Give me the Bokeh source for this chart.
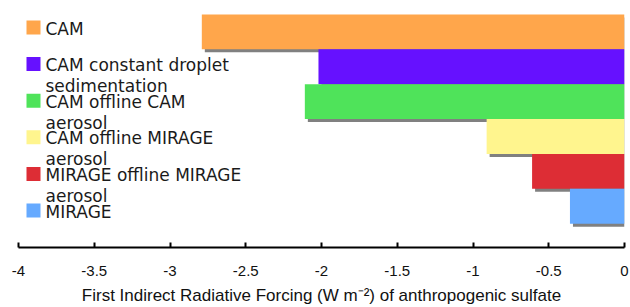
from bokeh.plotting import figure
from bokeh.models import ColumnDataSource, FixedTicker, Label, BoxAnnotation, Range1d
from bokeh.embed import file_html
from bokeh.resources import INLINE

# ---- data ----
categories = [
    "CAM",
    "CAM constant droplet\nsedimentation",
    "CAM offline CAM\naerosol",
    "CAM offline MIRAGE\naerosol",
    "MIRAGE offline MIRAGE\naerosol",
    "MIRAGE",
]
forcing = [-2.79, -2.02, -2.11, -0.91, -0.61, -0.36]
colors = ["#FFA64B", "#6611FF", "#4FE35A", "#FFF58E", "#DD2D35", "#66AAFF"]
tick_values = [-4, -3.5, -3, -2.5, -2, -1.5, -1, -0.5, 0]
tick_labels = ["-4", "-3.5", "-3", "-2.5", "-2", "-1.5", "-1", "-0.5", "0"]
x_label = "First Indirect Radiative Forcing (W m\u207b\u00b2) of anthropogenic sulfate"

# ---- layout ----
W, H = 630, 307
BL, BR, BT, BB = 18, 6, 8, 58
x_start, x_end = -4.0, 0.0
y_start, y_end = -1.182, 5.67
fw, fh = W - BL - BR, H - BT - BB
px_x = fw / (x_end - x_start)
px_y = fh / (y_end - y_start)
shadow_px = 3

n = len(forcing)
ys = [n - 1 - i for i in range(n)]
zeros = [0.0] * n
src = ColumnDataSource(dict(
    y=ys, left=forcing, right=zeros, color=colors,
    sy=[y - shadow_px / px_y for y in ys],
    sleft=[v + shadow_px / px_x for v in forcing],
    sright=[shadow_px / px_x] * n,
))

p = figure(width=W, height=H, output_backend="svg", toolbar_location=None,
           x_range=Range1d(x_start, x_end), y_range=Range1d(y_start, y_end),
           min_border_left=BL, min_border_right=BR, min_border_top=BT, min_border_bottom=BB)
p.outline_line_color = None
p.xgrid.visible = False
p.ygrid.visible = False
p.yaxis.visible = False
p.background_fill_color = "white"
p.border_fill_color = "white"

p.hbar(y="sy", left="sleft", right="sright", height=1, source=src,
       fill_color="#808080", line_color=None)
p.hbar(y="y", left="left", right="right", height=1, source=src,
       fill_color="color", line_color=None)

ax = p.xaxis[0]
ax.ticker = FixedTicker(ticks=tick_values)
ax.major_label_overrides = {v: l for v, l in zip(tick_values, tick_labels)}
ax.minor_tick_line_color = None
ax.axis_line_width = 2
ax.axis_line_color = "black"
ax.major_tick_line_width = 2
ax.major_tick_line_color = "black"
ax.major_tick_in = 5
ax.major_tick_out = 0
ax.major_label_text_font = "Liberation Sans"
ax.major_label_text_font_size = "15px"
ax.major_label_text_color = "#111111"
ax.major_label_standoff = 18
ax.axis_label = x_label
ax.axis_label_text_font = "Liberation Sans"
ax.axis_label_text_font_size = "17px"
ax.axis_label_text_font_style = "normal"
ax.axis_label_text_color = "#111111"
ax.axis_label_standoff = 7

# ---- legend (screen units, relative to frame) ----
row_step = 36.6
for i, (lab, col) in enumerate(zip(categories, colors)):
    top = 227 - row_step * i
    p.add_layout(BoxAnnotation(left=8, right=22, top=top, bottom=top - 14,
                               left_units="screen", right_units="screen",
                               top_units="screen", bottom_units="screen",
                               fill_color=col, fill_alpha=1, line_color=None))
    for j, line in enumerate(lab.split("\n")):
        p.add_layout(Label(x=27, y=top - 8 - 21 * j, x_units="screen", y_units="screen",
                           text=line, text_font="DejaVu Sans", text_font_size="17px",
                           text_color="#1a1a1a", text_baseline="alphabetic", text_align="left"))

open("out.html", "w").write(file_html(p, INLINE))
